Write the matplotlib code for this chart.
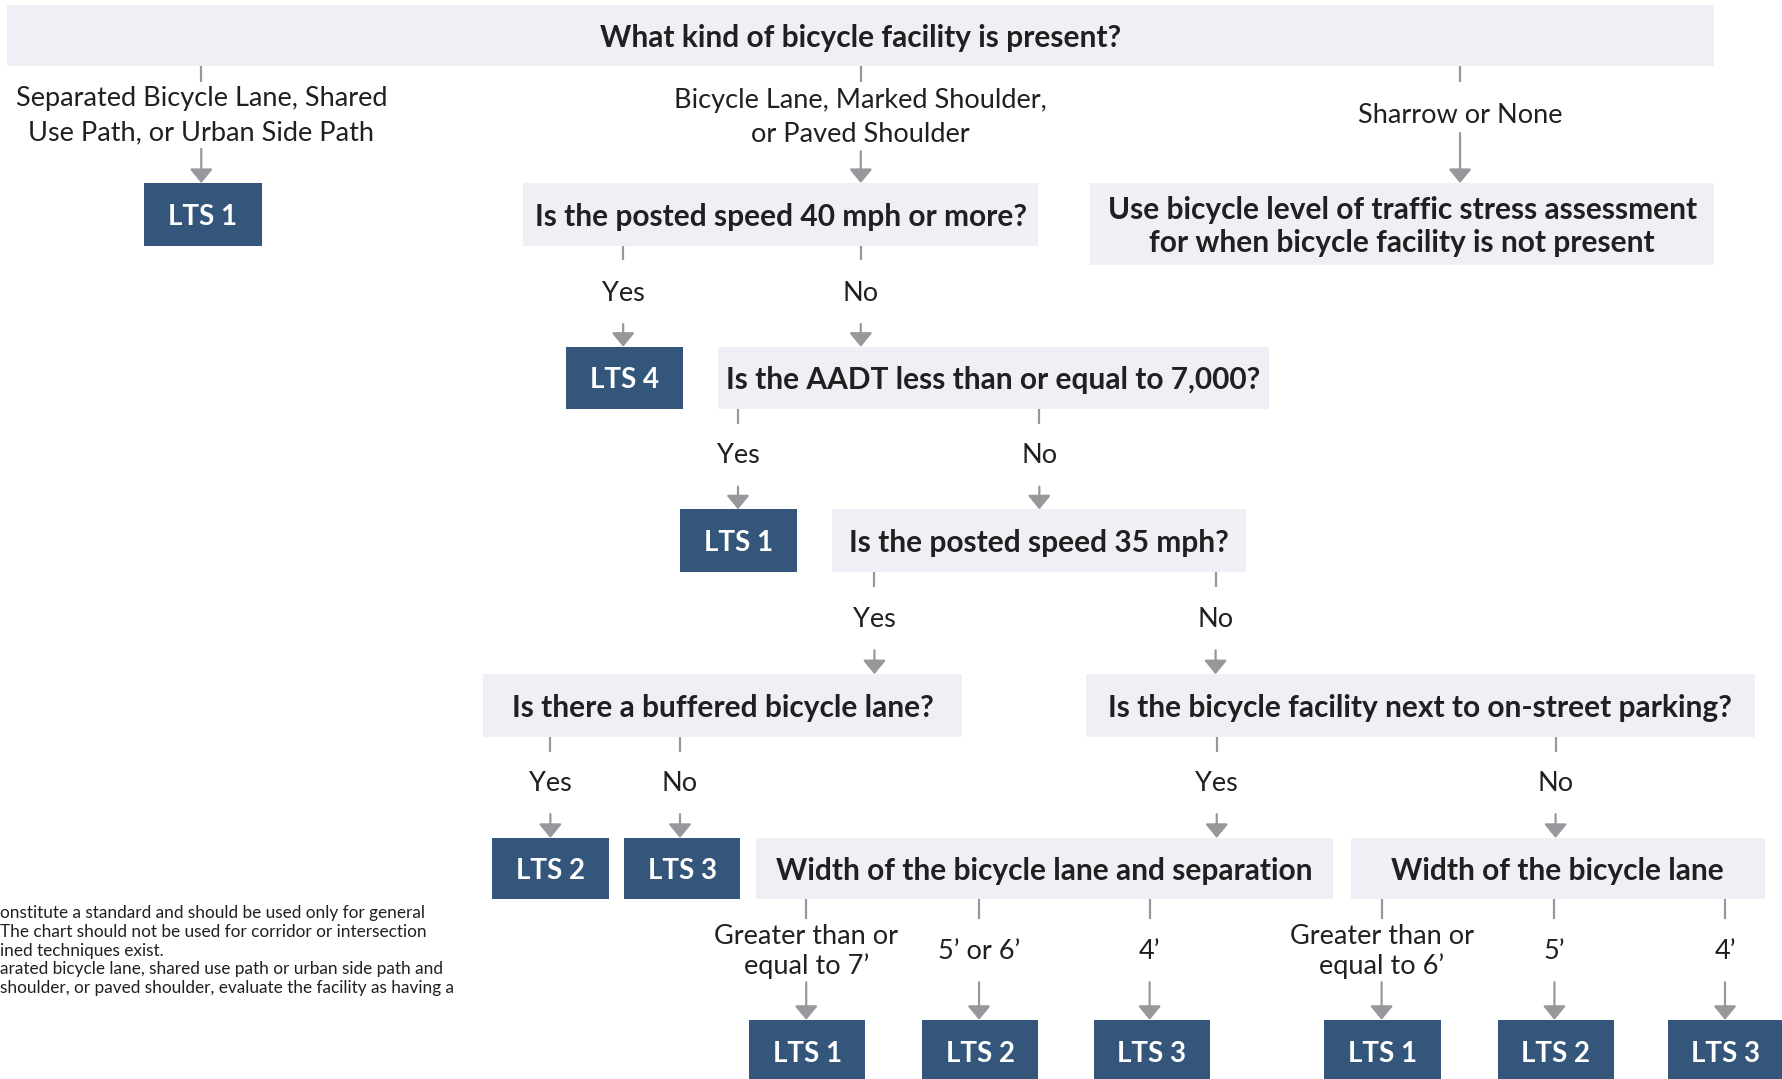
"""Bicycle level of traffic stress flowchart (facility present)."""

import matplotlib.pyplot as plt
from matplotlib.patches import Rectangle

plt.rcParams["font.family"] = ["Lato", "DejaVu Sans"]

# ---- content -------------------------------------------------------------
top_question = "What kind of bicycle facility is present?"
facility_labels = [
    "Separated Bicycle Lane, Shared\nUse Path, or Urban Side Path",
    "Bicycle Lane, Marked Shoulder,\nor Paved Shoulder",
    "Sharrow or None",
]
questions = [
    "Is the posted speed 40 mph or more?",
    "Is the AADT less than or equal to 7,000?",
    "Is the posted speed 35 mph?",
    "Is there a buffered bicycle lane?",
    "Is the bicycle facility next to on-street parking?",
    "Width of the bicycle lane and separation",
    "Width of the bicycle lane",
]
no_facility_note = ("Use bicycle level of traffic stress assessment\n"
                    "for when bicycle facility is not present")
width_labels_sep = ["Greater than or\nequal to 7\u2019", "5\u2019 or 6\u2019", "4\u2019"]
width_labels_lane = ["Greater than or\nequal to 6\u2019", "5\u2019", "4\u2019"]
outcomes = ["LTS 1", "LTS 4", "LTS 1", "LTS 2", "LTS 3",
            "LTS 1", "LTS 2", "LTS 3", "LTS 1", "LTS 2", "LTS 3"]
footnote_lines = [
    "onstitute a standard and should be used only for general",
    "The chart should not be used for corridor or intersection",
    "ined techniques exist.",
    "arated bicycle lane, shared use path or urban side path and",
    "shoulder, or paved shoulder, evaluate the facility as having a",
]

# ---- styles ----------------------------------------------------------------
LIGHT = "#eff0f5"
DARK = "#33567a"
GRAY = "#97989b"
INK = "#231f20"
Q_SIZE = 21.5
L_SIZE = 19.5
LTS_SIZE = 20

W, H = 1568, 949
fig = plt.figure(figsize=(17.83, 10.79), dpi=100)
ax = fig.add_axes([0, 0, 1, 1])
ax.set_xlim(0, W)
ax.set_ylim(H, 0)
ax.axis("off")


def box(x0, x1, y0, y1, text, dark=False, ty=None, **kw):
    ax.add_patch(Rectangle((x0, y0), x1 - x0, y1 - y0, lw=0,
                           fc=DARK if dark else LIGHT))
    ax.text((x0 + x1) / 2, (y0 + y1) / 2 + 2 if ty is None else ty, text,
            ha="center", va="center", fontweight="bold",
            fontsize=LTS_SIZE if dark else Q_SIZE,
            color="white" if dark else INK, **kw)


def stem(x, y0, y1):
    ax.plot([x, x], [y0, y1], color=GRAY, lw=1.6, solid_capstyle="butt")


def arrow(x, y0, y1):
    ax.annotate("", xy=(x, y1), xytext=(x, y0),
                arrowprops=dict(arrowstyle="-|>,head_length=0.85,head_width=0.7",
                                color=GRAY, lw=1.6, shrinkA=0, shrinkB=0))


def branch(x, y_top, label, label_y, y_arrow, y_box, stem_len=13, spacing=1.46):
    stem(x, y_top, y_top + stem_len)
    ax.text(x, label_y, label, ha="center", va="center", fontsize=L_SIZE,
            color=INK, linespacing=spacing)
    arrow(x, y_arrow, y_box)


# ---- top level --------------------------------------------------------------
box(6, 1507, 4, 58, top_question, ty=33)
branch(177, 58, facility_labels[0], 102, 131, 161, stem_len=14)
branch(757, 58, facility_labels[1], 103, 133, 161, stem_len=14)
branch(1284, 58, facility_labels[2], 102, 117, 161, stem_len=14)

box(127, 230, 161, 216, outcomes[0], dark=True)
box(460, 913, 161, 216, questions[0])
box(959, 1507, 161, 233, no_facility_note, ty=199, linespacing=1.23)

# ---- speed 40 ---------------------------------------------------------------
branch(548, 216, "Yes", 258, 285, 305)
branch(757, 216, "No", 258, 285, 305)
box(498, 601, 305, 360, outcomes[1], dark=True)
box(631, 1116, 305, 360, questions[1])

# ---- AADT ---------------------------------------------------------------------
branch(649, 360, "Yes", 401, 428, 448)
branch(914, 360, "No", 401, 428, 448)
box(598, 701, 448, 503, outcomes[2], dark=True)
box(732, 1096, 448, 503, questions[2])

# ---- speed 35 -------------------------------------------------------------------
branch(769, 503, "Yes", 545, 572, 593)
branch(1069, 503, "No", 545, 572, 593)
box(425, 846, 593, 648, questions[3])
box(955, 1543, 593, 648, questions[4])

# ---- buffered / parking ------------------------------------------------------------
branch(484, 648, "Yes", 689, 716, 737)
branch(598, 648, "No", 689, 716, 737)
branch(1070, 648, "Yes", 689, 716, 737)
branch(1368, 648, "No", 689, 716, 737)
box(433, 536, 737, 791, outcomes[3], dark=True)
box(549, 651, 737, 791, outcomes[4], dark=True)
box(665, 1172, 737, 791, questions[5])
box(1188, 1552, 737, 791, questions[6])

# ---- widths -------------------------------------------------------------------------
for x, lab in zip([709, 861, 1011], width_labels_sep):
    branch(x, 791, lab, 837, 864, 897, stem_len=17, spacing=1.22)
for x, lab in zip([1215, 1367, 1517], width_labels_lane):
    branch(x, 791, lab, 837, 864, 897, stem_len=17, spacing=1.22)

bottom_x = [(659, 761), (811, 913), (962, 1064),
            (1164, 1267), (1317, 1419), (1467, 1568)]
for (x0, x1), lab in zip(bottom_x, outcomes[5:]):
    box(x0, x1, 897, 965, lab, dark=True, ty=927)

# ---- clipped footnote ------------------------------------------------------------------
for i, line in enumerate(footnote_lines):
    ax.text(0, 803 + i * 16.5, line, ha="left", va="center",
            fontsize=12.4, color=INK)

fig.savefig("out.png", dpi=100)
